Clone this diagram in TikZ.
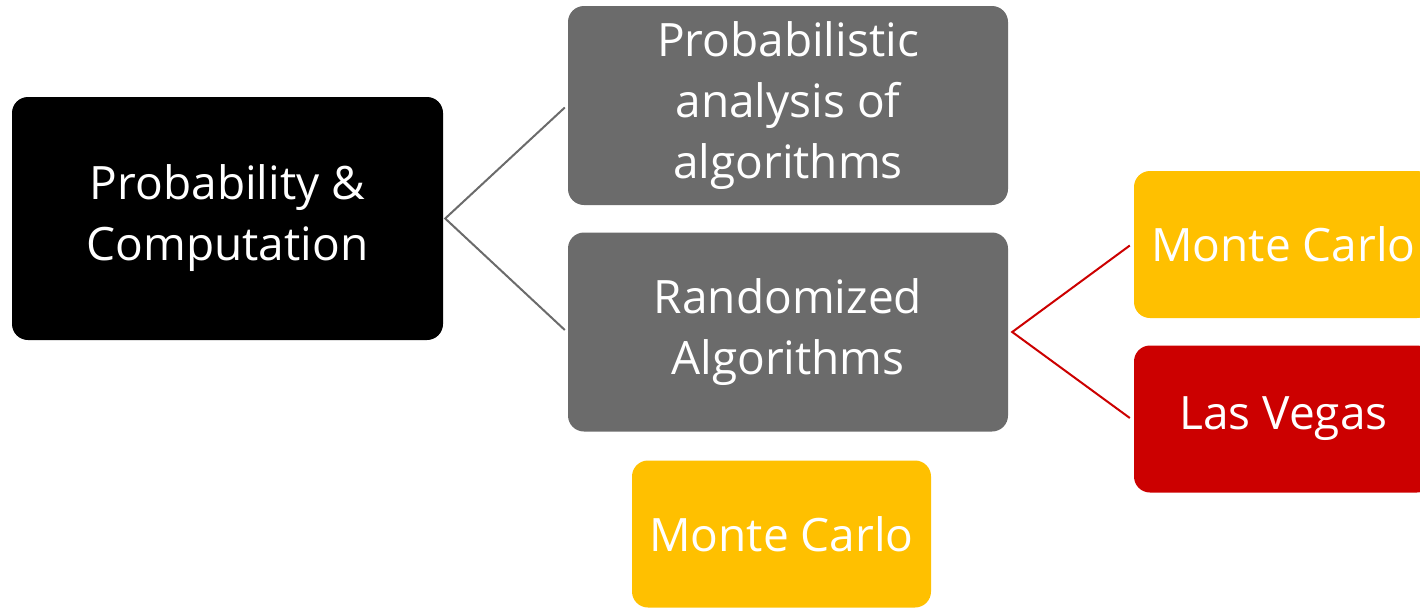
\documentclass[tikz,border=0pt]{standalone}
\usepackage{fontspec}
\setmainfont{Open Sans}
\usetikzlibrary{calc}
\definecolor{boxgray}{HTML}{6B6B6B}
\definecolor{boxyellow}{HTML}{FFC000}
\definecolor{boxred}{HTML}{CC0000}
\tikzset{
  box/.style={rounded corners=16pt, inner sep=0pt, text=white, align=center,
    font=\fontsize{46}{61}\selectfont, anchor=center},
  rootbox/.style={box, fill=black, minimum width=431pt, minimum height=243pt},
  graybox/.style={box, fill=boxgray, minimum width=440pt, minimum height=199pt},
  leafbox/.style={box, minimum width=299pt, minimum height=147pt},
  glink/.style={draw=boxgray, line width=2pt},
  rlink/.style={draw=boxred, line width=2pt}
}
\begin{document}
\begin{tikzpicture}[x=1pt,y=-1pt]
\useasboundingbox (0,0) rectangle (1420,608);
\clip (0,0) rectangle (1420,608);
\node[rootbox] (pc) at (227.5,218.5) {Probability \&\\Computation};
\node[graybox] (pa) at (788,105.5) {Probabilistic\\analysis of\\algorithms};
\node[graybox] (ra) at (788,332) {Randomized\\Algorithms};
\node[leafbox, fill=boxyellow] (mc) at (1283.5,244.5) {Monte Carlo};
\node[leafbox, fill=boxred] (lv) at (1283.5,419) {Las Vegas};
\node[leafbox, fill=boxyellow] (mc2) at (781.5,534) {Monte Carlo};
\coordinate (j1) at ($(pc.east)+(2,0)$);
\coordinate (j2) at ($(ra.east)+(4,0)$);
\draw[glink] (pa.west) ++(-3,2) -- (j1) -- ($(ra.west)+(-3,-2)$);
\draw[rlink] ($(mc.west)+(-4,1)$) -- (j2) -- ($(lv.west)+(-4,-1)$);
\end{tikzpicture}
\end{document}
